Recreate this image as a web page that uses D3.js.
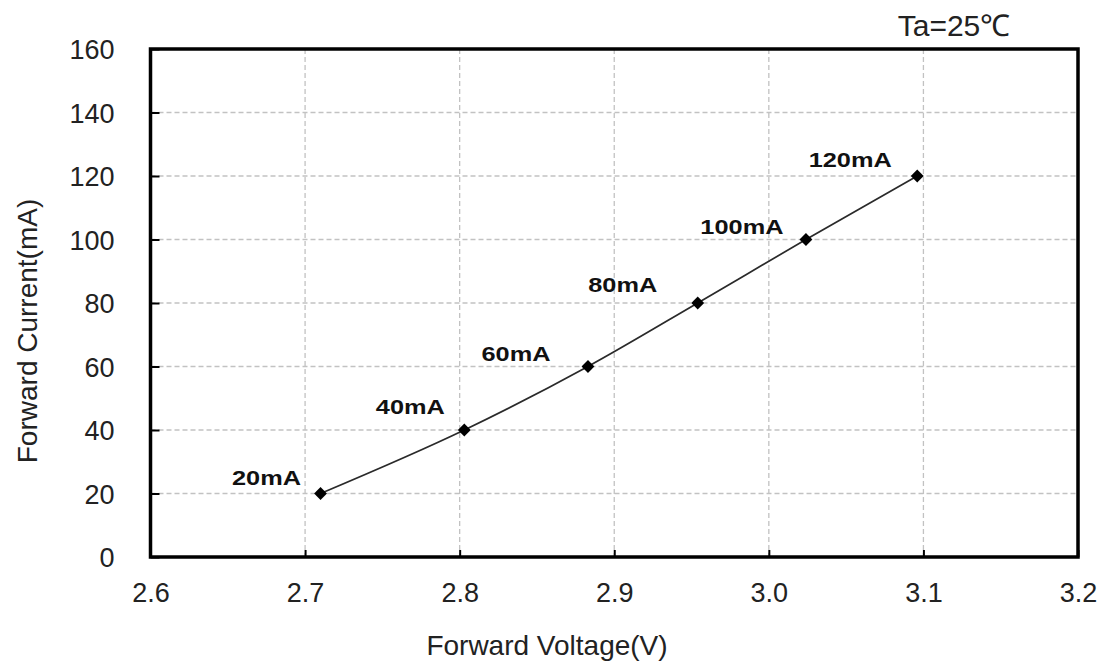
<!DOCTYPE html>
<html>
<head>
<meta charset="utf-8">
<script src="https://cdn.jsdelivr.net/npm/d3@7"></script>
<style>
  html, body { margin: 0; padding: 0; background: #fff; }
  svg { display: block; font-family: Arial, "Liberation Sans", sans-serif; }
</style>
</head>
<body>
<svg id="chart" width="1101" height="662"></svg>
<script>
// Forward voltage vs forward current, Ta = 25°C
const voltages = [2.71, 2.803, 2.883, 2.954, 3.024, 3.096];
const currents = [20, 40, 60, 80, 100, 120];
const pointLabels = ["20mA", "40mA", "60mA", "80mA", "100mA", "120mA"];
const xTicks = [2.6, 2.7, 2.8, 2.9, 3.0, 3.1, 3.2];
const yTicks = [0, 20, 40, 60, 80, 100, 120, 140, 160];

// label placement relative to each point (pixels)
const labelOffsets = [[-54, -16], [-54, -23], [-72, -13], [-75, -18], [-64, -13], [-67, -16]];

const svg = d3.select("#chart");
const plot = { left: 150.5, right: 1078, top: 49, bottom: 557 };
const font = "Arial, 'Liberation Sans', sans-serif";

const x = d3.scaleLinear().domain([2.6, 3.2]).range([plot.left, plot.right]);
const y = d3.scaleLinear().domain([0, 160]).range([plot.bottom, plot.top]);

// dashed grid
const grid = svg.append("g");
grid.selectAll("line.vx").data(xTicks.slice(1, -1)).join("line")
  .attr("x1", d => x(d)).attr("x2", d => x(d))
  .attr("y1", plot.top).attr("y2", plot.bottom)
  .attr("stroke", "#c2c2c2").attr("stroke-width", 1.3).attr("stroke-dasharray", "5,3");
grid.selectAll("line.hy").data(yTicks.slice(1, -1)).join("line")
  .attr("x1", plot.left).attr("x2", plot.right)
  .attr("y1", d => y(d)).attr("y2", d => y(d))
  .attr("stroke", "#c2c2c2").attr("stroke-width", 1.3).attr("stroke-dasharray", "5,3");

// axes with inward ticks
const xAxis = svg.append("g").attr("transform", `translate(0,${plot.bottom})`)
  .call(d3.axisBottom(x).tickValues(xTicks).tickFormat(d3.format(".1f")).tickSizeInner(-7).tickSizeOuter(0).tickPadding(26));
const yAxis = svg.append("g").attr("transform", `translate(${plot.left},0)`)
  .call(d3.axisLeft(y).tickValues(yTicks).tickFormat(d3.format("d")).tickSizeInner(-9).tickSizeOuter(0).tickPadding(36));
[xAxis, yAxis].forEach(g => {
  g.select(".domain").remove();
  g.selectAll(".tick line").attr("stroke", "#000").attr("stroke-width", 2);
  g.selectAll(".tick text").attr("font-size", 27).attr("fill", "#222")
    .attr("font-family", font);
});
xAxis.selectAll(".tick text").attr("dy", "0.71em");
yAxis.selectAll(".tick text").attr("dy", "0.36em");

// frame
svg.append("rect")
  .attr("x", plot.left).attr("y", plot.top)
  .attr("width", plot.right - plot.left).attr("height", plot.bottom - plot.top)
  .attr("fill", "none").attr("stroke", "#000").attr("stroke-width", 3.5);

// curve
const pts = voltages.map((v, i) => ({ v, c: currents[i], label: pointLabels[i], off: labelOffsets[i] }));
svg.append("path").datum(pts)
  .attr("d", d3.line().x(d => x(d.v)).y(d => y(d.c)).curve(d3.curveMonotoneX))
  .attr("fill", "none").attr("stroke", "#2a2a2a").attr("stroke-width", 1.7);

svg.append("g").selectAll("path").data(pts).join("path")
  .attr("d", d3.symbol().type(d3.symbolDiamond2).size(105))
  .attr("transform", d => `translate(${x(d.v)},${y(d.c)})`)
  .attr("fill", "#000");

// point labels: bold, drawn slightly wide
svg.append("g").selectAll("text").data(pts).join("text")
  .attr("transform", d => `translate(${x(d.v) + d.off[0]},${y(d.c) + d.off[1]}) scale(1.3,1)`)
  .attr("dy", "0.36em")
  .attr("text-anchor", "middle")
  .attr("font-size", 19.5).attr("font-weight", "bold").attr("fill", "#111")
  .text(d => d.label);

// titles
svg.append("text").attr("x", 547).attr("y", 655)
  .attr("text-anchor", "middle").attr("font-size", 28).attr("fill", "#222")
  .text("Forward Voltage(V)");
svg.append("text")
  .attr("transform", `translate(37,331) rotate(-90)`)
  .attr("text-anchor", "middle").attr("font-size", 28).attr("fill", "#222")
  .text("Forward Current(mA)");
svg.append("text").attr("x", 954).attr("y", 36)
  .attr("text-anchor", "middle").attr("font-size", 30).attr("fill", "#222")
  .text("Ta=25℃");
</script>
</body>
</html>
